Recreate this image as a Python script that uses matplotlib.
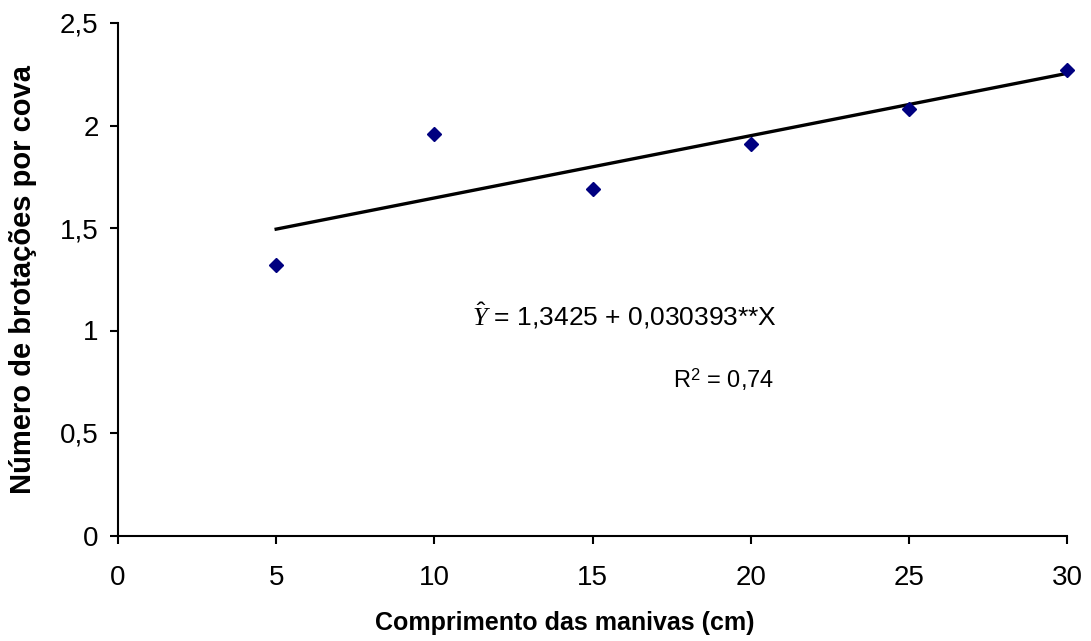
import numpy as np
import matplotlib
matplotlib.use("Agg")
import matplotlib.pyplot as plt

plt.rcParams['font.family'] = ['Liberation Sans', 'DejaVu Sans']
plt.rcParams['mathtext.fontset'] = 'custom'
plt.rcParams['mathtext.rm'] = 'Liberation Sans'
plt.rcParams['mathtext.it'] = 'Liberation Serif:italic'

# data
comprimento = [5, 10, 15, 20, 25, 30]
brotacoes = [1.32, 1.96, 1.69, 1.91, 2.08, 2.27]
b0, b1 = 1.3425, 0.030393
x_ticks = [0, 5, 10, 15, 20, 25, 30]
y_ticks = [0, 0.5, 1, 1.5, 2, 2.5]
y_labels = ['0', '0,5', '1', '1,5', '2', '2,5']

fig = plt.figure(figsize=(10.91, 6.41), dpi=100)
ax = fig.add_axes([118 / 1091, 105.5 / 641, (1067 - 118) / 1091, (535.5 - 23) / 641])

xfit = np.array([comprimento[0], comprimento[-1]])
ax.plot(xfit, b0 + b1 * xfit, color='black', lw=2.4, zorder=2)
ax.plot(comprimento, brotacoes, 'D', color='#000080', ms=7, zorder=3, clip_on=False)

ax.set_xlim(0, 30)
ax.set_ylim(0, 2.5)
ax.set_xticks(x_ticks)
ax.set_xticklabels([str(v) for v in x_ticks])
ax.set_yticks(y_ticks)
ax.set_yticklabels(y_labels)

for s in ['top', 'right']:
    ax.spines[s].set_visible(False)
for s in ['left', 'bottom']:
    ax.spines[s].set_linewidth(1.5)
ax.tick_params(direction='out', length=6, width=1.5, labelsize=20)
ax.tick_params(axis='x', pad=15)
ax.tick_params(axis='y', pad=8)

ax.set_xlabel('Comprimento das manivas (cm)', fontsize=18, fontweight='bold')
ax.xaxis.set_label_coords(0.471, -0.147)
ax.set_ylabel('Número de brotações por cova', fontsize=21, fontweight='bold')
ax.yaxis.set_label_coords(-0.0853, 0.5)

ax.text(11.2, 1.075, r'$\hat{Y}$ = 1,3425 + 0,030393**X', fontsize=19, va='center')
ax.text(17.55, 0.76, r'R$^{2}$ = 0,74', fontsize=17, va='center')

fig.savefig('out.png', dpi=100)
